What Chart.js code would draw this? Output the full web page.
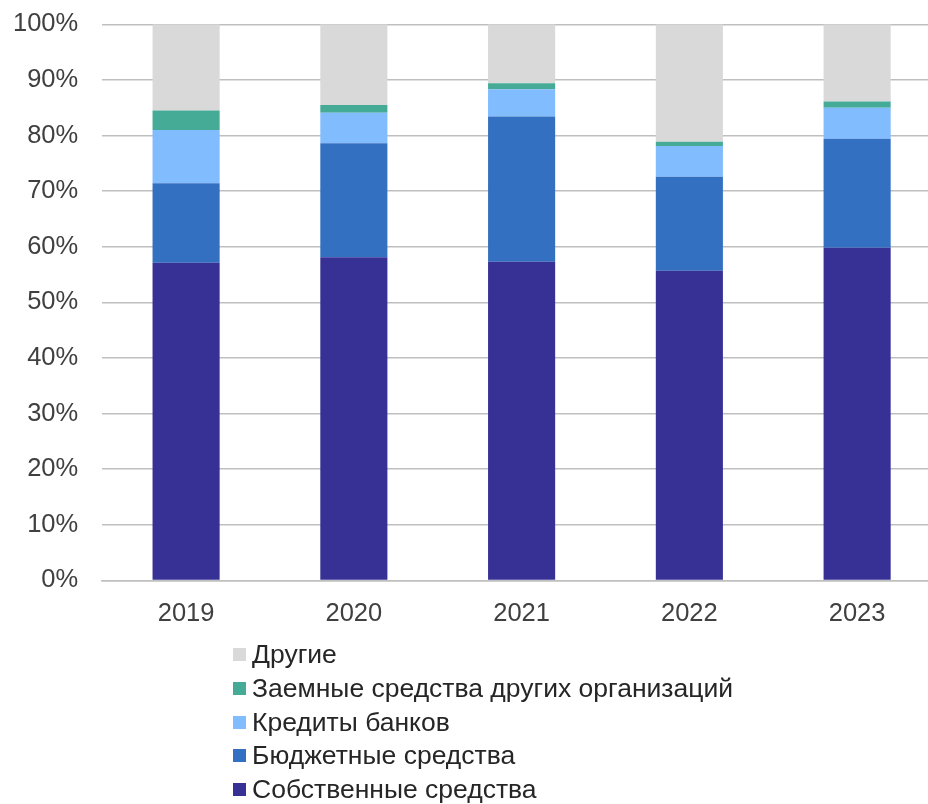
<!DOCTYPE html>
<html>
<head>
    <meta charset="UTF-8">
    <title>Источники финансирования</title>
    <script src="https://cdn.jsdelivr.net/npm/chart.js"></script>
    <style>
        body {
            margin: 0;
            overflow: hidden;
            background: #fff;
            font-family: "Liberation Sans", Arial, sans-serif;
        }

        #wrap {
            position: absolute;
            left: 0;
            top: -15px;
            width: 941px;
            height: 654px;
        }

        #legend {
            position: absolute;
            left: 233px;
            top: 638px;
            margin: 0;
            padding: 0;
            list-style: none;
        }

        #legend li {
            height: 33.75px;
            line-height: 33.75px;
            font-size: 26.5px;
            color: #262626;
            white-space: nowrap;
        }

        #legend span {
            display: inline-block;
            width: 13px;
            height: 13px;
            margin-right: 6px;
            vertical-align: 2px;
        }
    </style>
</head>
<body>
<div id="wrap">
    <canvas id="chart"></canvas>
</div>
<ul id="legend"></ul>

<script>
    const years = ["2019", "2020", "2021", "2022", "2023"];

    // доли, %
    const own = [57.1, 58.1, 57.3, 55.7, 59.8];
    const budget = [14.3, 20.5, 26.1, 16.9, 19.6];
    const bankCredits = [9.6, 5.5, 4.9, 5.5, 5.6];
    const otherLoans = [3.5, 1.4, 1.1, 0.8, 1.1];
    const other = [15.5, 14.5, 10.6, 21.1, 13.9];

    const yTicks = [0, 10, 20, 30, 40, 50, 60, 70, 80, 90, 100];

    const series = [
        {label: "Собственные средства", data: own, color: "#373196"},
        {label: "Бюджетные средства", data: budget, color: "#3470C1"},
        {label: "Кредиты банков", data: bankCredits, color: "#80BCFE"},
        {label: "Заемные средства других организаций", data: otherLoans, color: "#45AB97"},
        {label: "Другие", data: other, color: "#D9D9D9"}
    ];

    const font = {family: "'Liberation Sans', Arial, sans-serif", size: 25.5};

    const chart = new Chart(document.getElementById("chart"), {
        type: "bar",
        data: {
            labels: years,
            datasets: series.map(s => ({
                label: s.label,
                data: s.data,
                backgroundColor: s.color,
                borderWidth: 0,
                barPercentage: 0.4,
                categoryPercentage: 1
            }))
        },
        options: {
            responsive: true,
            maintainAspectRatio: false,
            animation: false,
            layout: {padding: {top: 0, left: -11, right: 0, bottom: 0}},
            plugins: {
                legend: {display: false},
                tooltip: {enabled: false}
            },
            scales: {
                x: {
                    stacked: true,
                    grid: {display: false},
                    border: {color: "#BFBFBF", width: 1.5},
                    ticks: {color: "#404040", font: font, padding: 10}
                },
                y: {
                    stacked: true,
                    min: 0,
                    max: 100,
                    afterBuildTicks: axis => {
                        axis.ticks = yTicks.map(v => ({value: v}));
                    },
                    grid: {color: "#BFBFBF", lineWidth: 1.5, drawTicks: false},
                    border: {display: false},
                    ticks: {
                        color: "#404040",
                        font: font,
                        padding: 24,
                        callback: v => v + "%"
                    }
                }
            }
        }
    });

    const legend = document.getElementById("legend");
    series.slice().reverse().forEach(s => {
        const li = document.createElement("li");
        li.innerHTML = `<span style="background:${s.color}"></span>${s.label}`;
        legend.appendChild(li);
    });
</script>
</body>
</html>
